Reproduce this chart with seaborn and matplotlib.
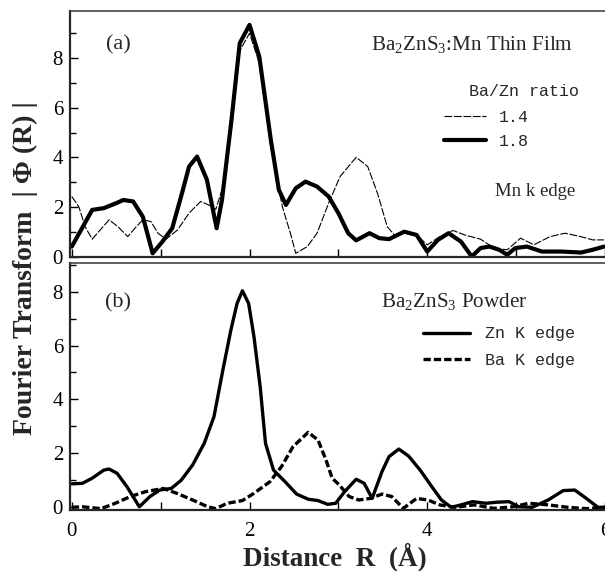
import matplotlib
matplotlib.use("Agg")
import matplotlib.pyplot as plt
import seaborn as sns
import pandas as pd
from matplotlib.ticker import MultipleLocator, FixedLocator

# ---- data: panel (a) Mn K edge, thin films ----
r_a18 = [0.0, 0.23, 0.36, 0.5, 0.58, 0.69, 0.8, 0.91, 1.02, 1.13, 1.24, 1.32, 1.41, 1.52, 1.63,
         1.69, 1.8, 1.89, 2.0, 2.11, 2.24, 2.33, 2.41, 2.52, 2.63, 2.76, 2.89, 3.0, 3.11, 3.2,
         3.35, 3.46, 3.57, 3.74, 3.88, 4.0, 4.12, 4.24, 4.38, 4.5, 4.6, 4.7, 4.81, 4.9, 4.99,
         5.12, 5.29, 5.51, 5.73, 5.86, 5.99]
v_a18 = [0.4, 1.88, 1.95, 2.15, 2.28, 2.22, 1.6, 0.13, 0.6, 1.14, 2.55, 3.63, 4.03, 3.1, 1.14,
         2.28, 5.6, 8.6, 9.34, 8.06, 4.7, 2.69, 2.08, 2.75, 3.02, 2.82, 2.42, 1.75, 0.94, 0.65,
         0.94, 0.74, 0.7, 1.0, 0.87, 0.2, 0.67, 0.94, 0.6, 0.0, 0.34, 0.4, 0.27, 0.07, 0.34,
         0.4, 0.2, 0.2, 0.16, 0.27, 0.4]
r_a14 = [0.0, 0.08, 0.15, 0.23, 0.32, 0.42, 0.52, 0.63, 0.71, 0.8, 0.89, 0.97, 1.06, 1.19, 1.32,
         1.45, 1.54, 1.62, 1.69, 1.8, 1.89, 2.0, 2.11, 2.24, 2.37, 2.46, 2.52, 2.65, 2.76, 2.89,
         3.02, 3.2, 3.33, 3.44, 3.55, 3.63, 3.74, 3.88, 4.0, 4.14, 4.29, 4.42, 4.6, 4.75, 4.9,
         5.05, 5.2, 5.38, 5.55, 5.73, 5.86, 5.99]
v_a14 = [2.42, 2.0, 1.2, 0.7, 1.07, 1.48, 1.2, 0.8, 1.14, 1.48, 1.41, 0.94, 0.7, 1.07, 1.75,
         2.22, 2.08, 1.9, 2.69, 5.2, 8.3, 9.0, 7.8, 4.4, 2.0, 0.94, 0.13, 0.4, 0.94, 2.15,
         3.23, 4.0, 3.63, 2.55, 1.2, 0.87, 1.0, 0.87, 0.47, 0.8, 1.05, 0.87, 0.7, 0.34, 0.27,
         0.74, 0.47, 0.8, 0.94, 0.8, 0.67, 0.67]

# ---- data: panel (b) powder ----
r_zn = [0.0, 0.12, 0.23, 0.36, 0.42, 0.51, 0.62, 0.76, 0.88, 0.99, 1.12, 1.23, 1.36, 1.49, 1.6,
        1.7, 1.79, 1.86, 1.92, 1.99, 2.05, 2.12, 2.18, 2.27, 2.4, 2.53, 2.66, 2.77, 2.88, 2.97,
        3.07, 3.2, 3.29, 3.38, 3.49, 3.57, 3.68, 3.79, 3.92, 4.05, 4.16, 4.27, 4.38, 4.51, 4.66,
        4.79, 4.92, 5.03, 5.18, 5.36, 5.53, 5.66, 5.79, 5.92, 6.0]
v_zn = [0.87, 0.89, 1.08, 1.38, 1.42, 1.26, 0.77, 0.02, 0.4, 0.64, 0.7, 1.0, 1.57, 2.37, 3.36,
        5.09, 6.57, 7.56, 8.03, 7.56, 6.33, 4.47, 2.37, 1.38, 0.95, 0.49, 0.3, 0.25, 0.11, 0.15,
        0.58, 1.04, 0.89, 0.33, 1.32, 1.88, 2.16, 1.9, 1.38, 0.77, 0.27, 0.0, 0.09, 0.21, 0.15,
        0.19, 0.21, 0.02, 0.0, 0.27, 0.62, 0.64, 0.33, 0.0, 0.0]
r_ba = [0.0, 0.12, 0.33, 0.49, 0.66, 0.83, 1.03, 1.18, 1.36, 1.53, 1.62, 1.75, 1.92, 2.05, 2.23,
        2.36, 2.49, 2.66, 2.77, 2.86, 2.93, 3.01, 3.12, 3.23, 3.36, 3.49, 3.6, 3.73, 3.88, 4.01,
        4.14, 4.31, 4.53, 4.75, 4.97, 5.14, 5.36, 5.58, 5.79, 6.0]
v_ba = [0.0, 0.02, -0.05, 0.15, 0.4, 0.58, 0.7, 0.52, 0.27, 0.02, -0.05, 0.15, 0.25, 0.52, 0.95,
        1.51, 2.25, 2.78, 2.5, 1.76, 1.08, 0.83, 0.4, 0.27, 0.33, 0.49, 0.4, -0.04, 0.33, 0.27,
        0.09, 0.0, 0.09, -0.04, 0.02, 0.15, 0.09, 0.0, -0.05, 0.0]

labels_a = ["1.4", "1.8"]
labels_b = ["Zn K edge", "Ba K edge"]

sns.set_theme(style="ticks")
plt.rcParams["font.family"] = ["Liberation Serif", "DejaVu Serif"]
plt.rcParams["mathtext.fontset"] = "custom"
plt.rcParams["mathtext.rm"] = "Liberation Serif"
plt.rcParams["mathtext.it"] = "Liberation Serif:italic"
plt.rcParams["mathtext.bf"] = "Liberation Serif:bold"

W, H = 605, 571
fig = plt.figure(figsize=(W / 100, H / 100), dpi=100)
ax1 = fig.add_axes([70 / W, 1 - 257 / H, 535 / W, 246 / H])
ax2 = fig.add_axes([70 / W, 1 - 510 / H, 535 / W, 247 / H])

df_a14 = pd.DataFrame({"R": r_a14, "FT": v_a14})
df_a18 = pd.DataFrame({"R": r_a18, "FT": v_a18})
df_zn = pd.DataFrame({"R": r_zn, "FT": v_zn})
df_ba = pd.DataFrame({"R": r_ba, "FT": v_ba})

sns.lineplot(data=df_a14, x="R", y="FT", ax=ax1, color="black", lw=0.8,
             linestyle=(0, (7, 1.5)), estimator=None, sort=False, label=labels_a[0])
sns.lineplot(data=df_a18, x="R", y="FT", ax=ax1, color="black", lw=3.0,
             estimator=None, sort=False, label=labels_a[1])
sns.lineplot(data=df_zn, x="R", y="FT", ax=ax2, color="black", lw=2.4,
             estimator=None, sort=False, label=labels_b[0])
sns.lineplot(data=df_ba, x="R", y="FT", ax=ax2, color="black", lw=2.4,
             linestyle=(0, (2.2, 0.9)), estimator=None, sort=False, label=labels_b[1])

for ax in (ax1, ax2):
    ax.set_xlim(-0.02, 6.0)
    ax.set_xlabel("")
    ax.set_ylabel("")
    ax.spines["right"].set_visible(False)
    ax.spines["left"].set_linewidth(1.6)
    ax.spines["bottom"].set_linewidth(1.6)
    ax.spines["top"].set_linewidth(1.2)
    ax.spines["top"].set_color("#444444")
    ax.yaxis.set_major_locator(FixedLocator([0, 2, 4, 6, 8]))
    ax.yaxis.set_minor_locator(FixedLocator([1, 3, 5, 7, 9]))
    ax.tick_params(which="both", direction="in", top=False, right=False, colors="black",
                   labelsize=15, width=1.0, pad=5)
    ax.tick_params(which="major", length=6)
    ax.tick_params(which="minor", length=4)

ax1.set_ylim(-0.02, 9.9)
ax2.set_ylim(-0.1, 9.06)
ax1.xaxis.set_major_locator(FixedLocator([0, 1, 2, 3, 4, 5, 6]))
ax1.tick_params(axis="x", labelbottom=False, length=6)
ax2.xaxis.set_major_locator(FixedLocator([0, 2, 4, 6]))
ax2.xaxis.set_minor_locator(FixedLocator([1, 3, 5]))
ax2.tick_params(axis="x", which="both", length=6, pad=9)

mono = "Liberation Mono"
h1, l1 = ax1.get_legend_handles_labels()
ax1.legend(h1, l1, loc="upper left", bbox_to_anchor=(0.699, 0.598), frameon=False,
           prop={"family": mono, "size": 12}, handlelength=2.5, handletextpad=0.8,
           labelspacing=0.55, borderpad=0, borderaxespad=0)
h2, l2 = ax2.get_legend_handles_labels()
ax2.legend(h2, l2, loc="upper left", bbox_to_anchor=(0.66, 0.743), frameon=False,
           prop={"family": mono, "size": 12}, handlelength=2.8, handletextpad=0.9,
           labelspacing=0.69, borderpad=0, borderaxespad=0)

ax1.text(0.0897, 0.862, "(a)", transform=ax1.transAxes, ha="center", va="center", fontsize=16)
ax1.text(0.5626, 0.862, r"Ba$_2$ZnS$_3$:Mn Thin Film", transform=ax1.transAxes,
         ha="left", va="center", fontsize=15.2)
ax1.text(0.746, 0.671, "Ba/Zn ratio", transform=ax1.transAxes, ha="left", va="center",
         fontsize=12, family=mono)
ax1.text(0.794, 0.268, "Mn k edge", transform=ax1.transAxes, ha="left", va="center",
         fontsize=13.5)

ax2.text(0.0897, 0.838, "(b)", transform=ax2.transAxes, ha="center", va="center", fontsize=16)
ax2.text(0.581, 0.846, r"Ba$_2$ZnS$_3$ Powder", transform=ax2.transAxes,
         ha="left", va="center", fontsize=15.2)

fig.text(335 / W, 1 - 557 / H, "Distance  R  (Å)", ha="center", va="center",
         fontsize=19.5, fontweight="bold")
fig.text(25 / W, 1 - 268 / H, "Fourier Transform  | Φ (R) |", ha="center", va="center",
         rotation=90, fontsize=20, fontweight="bold")

fig.savefig("out.png", dpi=100)
